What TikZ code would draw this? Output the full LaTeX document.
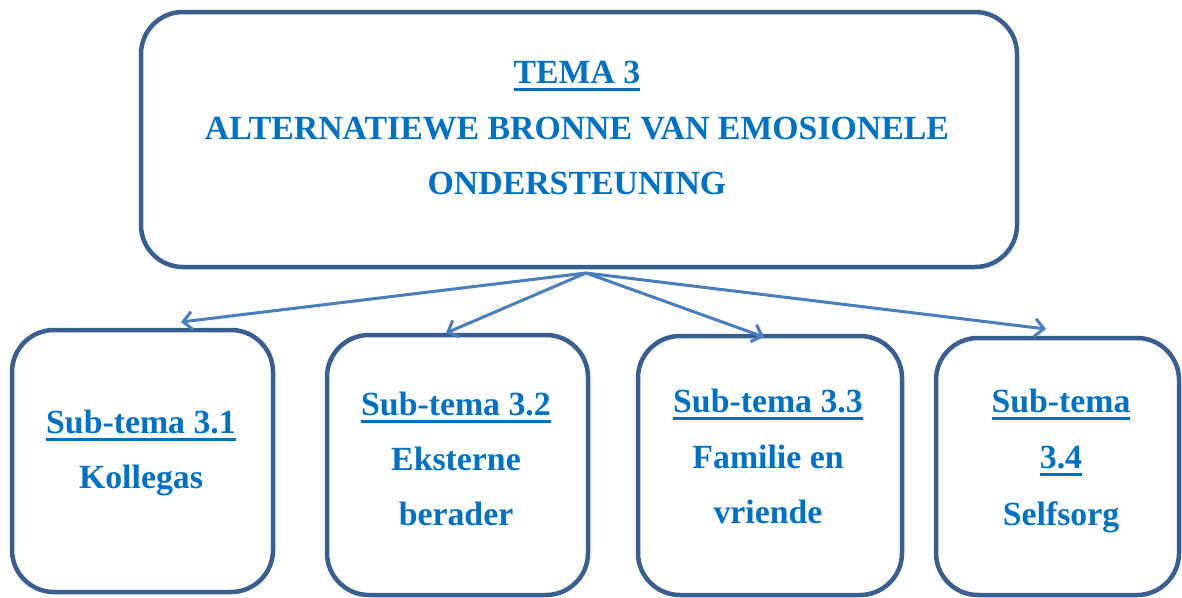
\documentclass[tikz,border=0pt]{standalone}
\usepackage{fontspec}
\setmainfont{Liberation Serif}
\usetikzlibrary{arrows.meta}
\definecolor{boxline}{HTML}{3A5F8E}
\definecolor{arrowc}{HTML}{4A7EBB}
\definecolor{txtc}{HTML}{0070C0}
\newcommand\myul[1]{\setbox0\hbox{#1}\rlap{\vrule height -4.5pt depth 7.5pt width \wd0}\box0}
\tikzset{
  rbox/.style={draw=boxline, line width=4.5pt, rounded corners=42pt, rectangle, inner sep=0pt},
  txt/.style={anchor=base, inner sep=0pt, text=txtc, font=\fontsize{33.8}{55}\selectfont\bfseries},
  conn/.style={draw=arrowc, line width=3pt, -{Straight Barb[length=9pt,width=18pt]}},
}
\begin{document}
\begin{tikzpicture}[x=1pt,y=-1pt]
\useasboundingbox (0,0) rectangle (1182,597);
% boxes
\node[rbox, minimum width=876pt, minimum height=255pt] (top) at (579,139.5) {};
\node[rbox, minimum width=261pt, minimum height=262pt] (b1) at (142.5,461) {};
\node[rbox, minimum width=261pt, minimum height=260pt] (b2) at (457.5,465) {};
\node[rbox, minimum width=264pt, minimum height=259pt] (b3) at (770,465.5) {};
\node[rbox, minimum width=243pt, minimum height=257pt] (b4) at (1057.5,466.5) {};
% top texts
\node[txt] (t0) at (577,83) {\myul{TEMA 3}};
\node[txt] (t1) at (577,139) {ALTERNATIEWE BRONNE VAN EMOSIONELE};
\node[txt] (t2) at (577,194) {ONDERSTEUNING};
% box 1
\node[txt] (s1a) at (141,433) {\myul{Sub-tema 3.1}};
\node[txt] (s1b) at (141,488) {Kollegas};
% box 2
\node[txt] (s2a) at (456,415) {\myul{Sub-tema 3.2}};
\node[txt] (s2b) at (456,470) {Eksterne};
\node[txt] (s2c) at (456,525) {berader};
% box 3
\node[txt] (s3a) at (768,412) {\myul{Sub-tema 3.3}};
\node[txt] (s3b) at (768,468) {Familie en};
\node[txt] (s3c) at (768,523) {vriende};
% box 4
\node[txt] (s4a) at (1061,412) {\myul{Sub-tema}};
\node[txt] (s4b) at (1061,468) {\myul{3.4}};
\node[txt] (s4c) at (1061,525) {Selfsorg};
% connectors
\coordinate (src) at (586,273);
\coordinate (e1) at (181,322);
\coordinate (e2) at (446,333);
\coordinate (e3) at (764,337);
\coordinate (e4) at (1046,329);
\draw[conn] (src) -- (e1);
\draw[conn] (src) -- (e2);
\draw[conn] (src) -- (e3);
\draw[conn] (src) -- (e4);
\end{tikzpicture}
\end{document}
